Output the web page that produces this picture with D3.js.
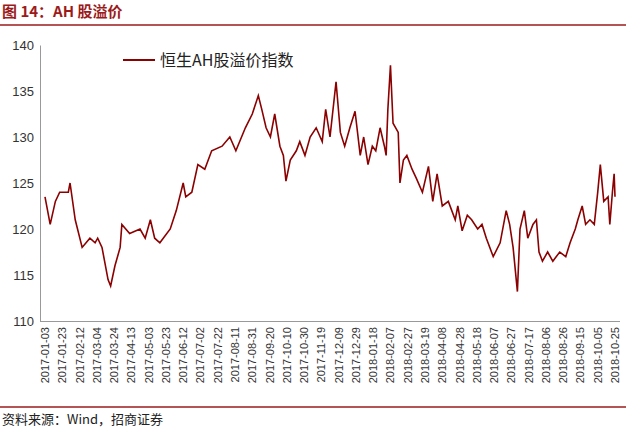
<!DOCTYPE html><html><head><meta charset="utf-8">
<script src="https://cdn.jsdelivr.net/npm/d3@7"></script>
<style>body{margin:0;background:#fff}</style></head><body>
<svg id="c" width="626" height="431"></svg>
<script>
const startDate = "2017-01-03";
const dayOffsets = [0,6,12,17,27,29,35,43,52,58,61,66,73,76,81,87,89,98,110,116,122,127,133,145,152,160,163,170,177,185,193,205,214,221,232,240,247,251,256,261,266,272,276,279,284,291,295,301,307,314,321,325,330,337,342,347,353,359,365,369,374,379,383,388,393,395,397,400,403,409,411,415,419,425,430,437,444,449,454,460,467,475,478,483,489,494,501,506,511,519,527,534,538,542,547,550,555,559,565,569,572,576,582,588,596,603,608,614,617,622,626,631,636,640,643,647,652,654,657,659,660];
const values = [123.5,120.5,123,124,124,125,121,118,119,118.5,119,118,114.5,113.8,116,118,120.5,119.5,120,119,121,119,118.5,120,122,125,123.5,124,127,126.5,128.5,129,130,128.5,131,132.5,134.5,133,131,130,132.5,129,128,125.2,127.5,128.5,129.5,128,130,131,129.5,133,130,136,130.5,129,131,132.8,128,130,127,129,128.5,131,129,128,133,137.8,131.5,130.5,125,127.5,128,126.5,125.5,124,126.8,123,126,122.5,123,121,122.5,119.8,121.5,121,120,120.5,119,117,118.5,122,120.5,118,113.2,120,122,119,120.5,121,117.5,116.5,117.5,116.5,117.5,117,118.5,120,121,122.5,120.5,121,120.5,124,127,123,123.5,120.5,124,126,123.5];
const yTicks = [110,115,120,125,130,135,140];
const seriesName = "恒生AH股溢价指数";
const title = "图 14：AH 股溢价";
const source = "资料来源：Wind，招商证券";

const svg = d3.select("#c");
const t0 = d3.timeParse("%Y-%m-%d")(startDate);
const data = dayOffsets.map((d,i)=>({date:d3.timeDay.offset(t0,d), v:values[i]}));
const x = d3.scaleTime().domain([t0, d3.timeDay.offset(t0,660)]).range([45,615]);
const y = d3.scaleLinear().domain([110,140]).range([321,45]);
const red="#8B0000";
svg.append("text").attr("x",2).attr("y",17).attr("fill","#9b1b1b").attr("font-weight","bold")
  .attr("font-family","Noto Sans CJK SC").attr("font-size",15).text(title);
svg.append("line").attr("x1",0).attr("x2",626).attr("y1",25).attr("y2",25).attr("stroke","#9b1b1b").attr("stroke-width",1.5);
const ya = svg.append("g").attr("transform","translate(40,0)")
  .call(d3.axisLeft(y).tickValues(yTicks).tickSize(0).tickPadding(6));
ya.select(".domain").attr("stroke","#999");
ya.selectAll("text").attr("font-size",13).attr("fill","#333").attr("font-family","Liberation Sans");
const xTicks = d3.range(0,661,20).map(d=>d3.timeDay.offset(t0,d));
const xa = svg.append("g").attr("transform","translate(0,321)")
  .call(d3.axisBottom(x).tickValues(xTicks).tickSize(0).tickFormat(d3.timeFormat("%Y-%m-%d")));
xa.select(".domain").attr("stroke","#999").attr("d","M40,0.5H620");
xa.selectAll("text").attr("font-size",11).attr("fill","#333").attr("font-family","Liberation Sans")
  .attr("transform","rotate(-90)").attr("text-anchor","end").attr("dx","-6").attr("dy","0.32em").attr("y",0);
svg.append("path").datum(data).attr("fill","none").attr("stroke",red).attr("stroke-width",1.6)
  .attr("d",d3.line().x(d=>x(d.date)).y(d=>y(d.v)));
svg.append("line").attr("x1",123).attr("x2",155).attr("y1",60).attr("y2",60).attr("stroke",red).attr("stroke-width",2);
svg.append("text").attr("x",160).attr("y",66).attr("font-size",16).attr("fill","#222")
  .attr("font-family","Noto Sans CJK SC").text(seriesName);
svg.append("line").attr("x1",0).attr("x2",626).attr("y1",407).attr("y2",407).attr("stroke","#9b1b1b").attr("stroke-width",1.5);
svg.append("text").attr("x",2).attr("y",424).attr("font-size",13).attr("fill","#222")
  .attr("font-family","Noto Sans CJK SC").text(source);
</script></body></html>
